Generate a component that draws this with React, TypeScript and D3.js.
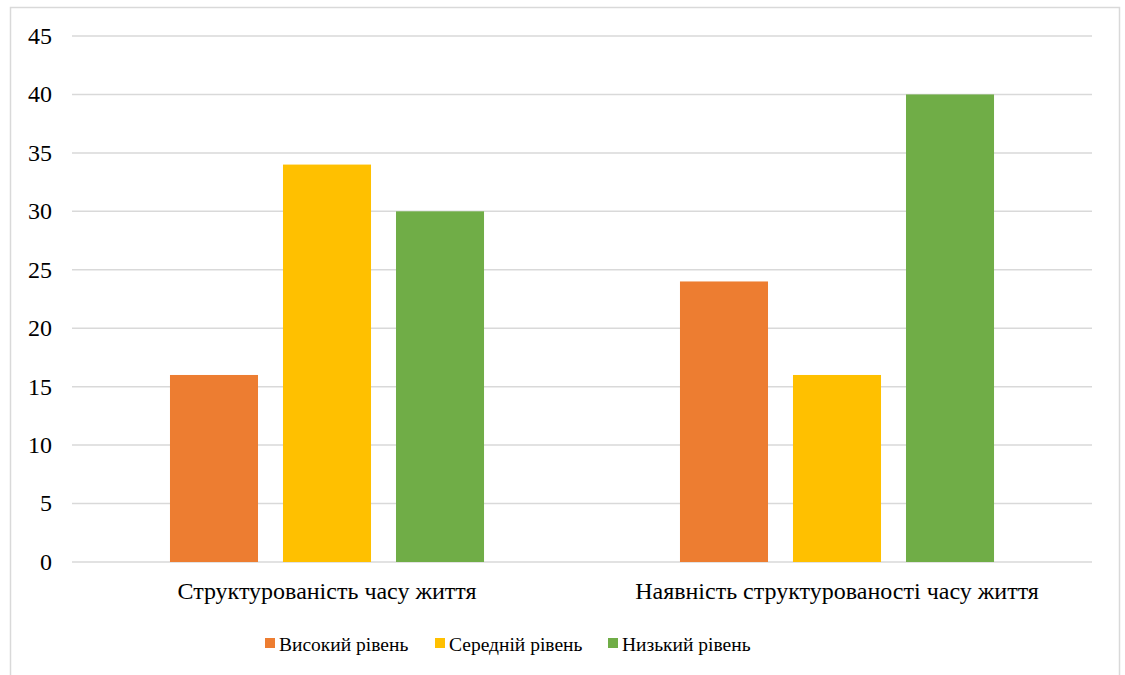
import * as d3 from "d3";

// категорії та серії
const categories = ["Структурованість часу життя", "Наявність структурованості часу життя"];
const seriesNames = ["Високий рівень", "Середній рівень", "Низький рівень"];
const seriesColors = ["#ED7D31", "#FFC000", "#70AD47"];
const high = [16, 24];
const medium = [34, 16];
const low = [30, 40];
const yTicks = [0, 5, 10, 15, 20, 25, 30, 35, 40, 45];
const legendX = [265, 435, 608];

const width = 1125;
const height = 675;
const margin = { left: 72, right: 33, top: 36, bottom: 113 };
const axisFont = { fontFamily: "Liberation Serif", fontSize: 24 };
const legendFont = { fontFamily: "Liberation Serif", fontSize: 19.5 };

const App = () => {
  const x0 = d3
    .scaleBand()
    .domain(categories)
    .range([margin.left, width - margin.right]);

  const x1 = d3
    .scaleBand()
    .domain(seriesNames)
    .range([0, x0.bandwidth()])
    .paddingInner(0.221)
    .paddingOuter(0.867);

  const y = d3
    .scaleLinear()
    .domain([0, 45])
    .range([height - margin.bottom, margin.top]);

  const series = [high, medium, low];
  const rows = categories.flatMap((c, ci) =>
    seriesNames.map((s, si) => ({ c, s, si, v: series[si][ci] }))
  );

  return (
    <svg
      width={width}
      height={height}
      style={{ position: "absolute", left: 0, top: 0, background: "#fff" }}
    >
      {/* рамка діаграми */}
      <rect x={10.5} y={7.5} width={1109} height={700} fill="none" stroke="#d9d9d9" strokeWidth={1.5} />

      {/* сітка та підписи осі Y */}
      {yTicks.map((t) => (
        <g key={t}>
          <line
            x1={margin.left}
            x2={width - margin.right}
            y1={y(t)}
            y2={y(t)}
            stroke="#d9d9d9"
            strokeWidth={1.5}
          />
          <text x={52} y={y(t)} dy="0.33em" textAnchor="end" fill="#000" style={axisFont}>
            {t}
          </text>
        </g>
      ))}

      {rows.map((d, i) => (
        <rect
          key={i}
          x={(x0(d.c) ?? 0) + (x1(d.s) ?? 0)}
          width={x1.bandwidth()}
          y={y(d.v)}
          height={y(0) - y(d.v)}
          fill={seriesColors[d.si]}
        />
      ))}

      {/* підписи категорій */}
      {categories.map((c) => (
        <text
          key={c}
          x={(x0(c) ?? 0) + x0.bandwidth() / 2}
          y={599}
          textAnchor="middle"
          fill="#000"
          style={axisFont}
        >
          {c}
        </text>
      ))}

      {/* легенда */}
      {seriesNames.map((s, i) => (
        <g key={s} transform={`translate(${legendX[i]}, 0)`}>
          <rect x={0} y={638} width={10} height={10} fill={seriesColors[i]} />
          <text x={14} y={651} fill="#000" style={legendFont}>
            {s}
          </text>
        </g>
      ))}
    </svg>
  );
};

export default App;
